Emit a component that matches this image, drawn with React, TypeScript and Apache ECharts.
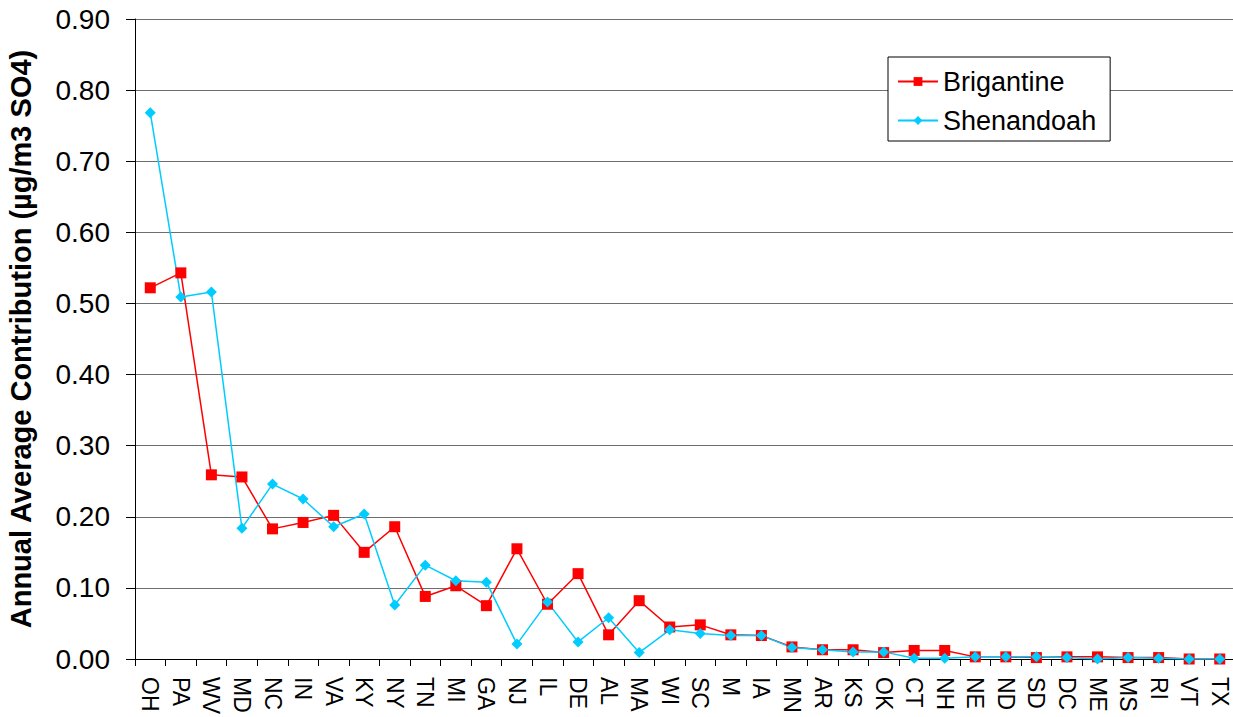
import React, { useEffect, useRef } from "react";
import * as echarts from "echarts";

const states = ["OH","PA","WV","MD","NC","IN","VA","KY","NY","TN","MI","GA","NJ","IL","DE","AL","MA","WI","SC","M","IA","MN","AR","KS","OK","CT","NH","NE","ND","SD","DC","ME","MS","RI","VT","TX"];

const brigantine = [0.522,0.543,0.259,0.256,0.183,0.192,0.202,0.150,0.186,0.088,0.103,0.075,0.155,0.077,0.120,0.034,0.082,0.045,0.048,0.034,0.033,0.017,0.013,0.013,0.009,0.012,0.012,0.003,0.003,0.002,0.003,0.003,0.002,0.002,0.000,0.000];

const shenandoah = [0.768,0.509,0.516,0.184,0.246,0.225,0.186,0.204,0.076,0.132,0.110,0.108,0.021,0.080,0.024,0.058,0.009,0.041,0.036,0.033,0.033,0.016,0.013,0.010,0.010,0.001,0.001,0.003,0.003,0.003,0.002,0.000,0.002,0.001,0.000,0.000];

const yTitle = "Annual Average Contribution (µg/m3 SO4)";
const FONT = "'Liberation Sans', Arial, sans-serif";

export default function App() {
  const ref = useRef<HTMLDivElement>(null);
  useEffect(() => {
    if (!ref.current) return;
    const chart = echarts.init(ref.current, undefined, { renderer: "svg" });
    chart.setOption({
      animation: false,
      backgroundColor: "#ffffff",
      textStyle: { fontFamily: FONT },
      grid: { left: 135, right: -2, top: 19, bottom: 58, containLabel: false, outerBoundsMode: "none" },
      legend: {
        orient: "vertical",
        left: 888,
        top: 57,
        backgroundColor: "#ffffff",
        borderColor: "#000000",
        borderWidth: 1,
        borderRadius: 0,
        padding: [11, 14, 7, 9],
        itemGap: 12,
        itemWidth: 40,
        itemHeight: 11,
        textStyle: { fontSize: 27, color: "#000", fontFamily: FONT },
        data: ["Brigantine", "Shenandoah"],
      },
      xAxis: {
        type: "category",
        data: states,
        boundaryGap: true,
        axisLine: { lineStyle: { color: "#000", width: 1 } },
        axisTick: { show: true, length: 7, lineStyle: { color: "#000" }, interval: 0 },
        axisLabel: { rotate: -90, interval: 0, fontSize: 23, color: "#000", margin: 18, fontFamily: FONT },
        splitLine: { show: false },
      },
      yAxis: {
        type: "value",
        min: 0,
        max: 0.9,
        interval: 0.1,
        name: yTitle,
        nameLocation: "middle",
        nameGap: 100,
        nameTextStyle: { fontSize: 29, fontWeight: "bold", color: "#000", fontFamily: FONT },
        axisLine: { show: true, lineStyle: { color: "#000", width: 1 } },
        axisTick: { show: true, length: 9, lineStyle: { color: "#000" } },
        axisLabel: { fontSize: 28, color: "#000", margin: 25, formatter: (v: number) => v.toFixed(2), fontFamily: FONT },
        splitLine: { show: true, lineStyle: { color: "#6e6e6e", width: 1 } },
      },
      series: [
        {
          name: "Brigantine",
          type: "line",
          data: brigantine,
          symbol: "rect",
          symbolSize: 11,
          itemStyle: { color: "#ff0000" },
          lineStyle: { color: "#ff0000", width: 1.5 },
        },
        {
          name: "Shenandoah",
          type: "line",
          data: shenandoah,
          symbol: "diamond",
          symbolSize: 11,
          itemStyle: { color: "#00ccff" },
          lineStyle: { color: "#00ccff", width: 1.5 },
        },
      ],
    });
    return () => chart.dispose();
  }, []);
  return (
    <div style={{ position: "fixed", left: 0, top: 0, width: 1233, height: 717, background: "#fff" }}>
      <div ref={ref} style={{ width: 1233, height: 717 }} />
    </div>
  );
}
